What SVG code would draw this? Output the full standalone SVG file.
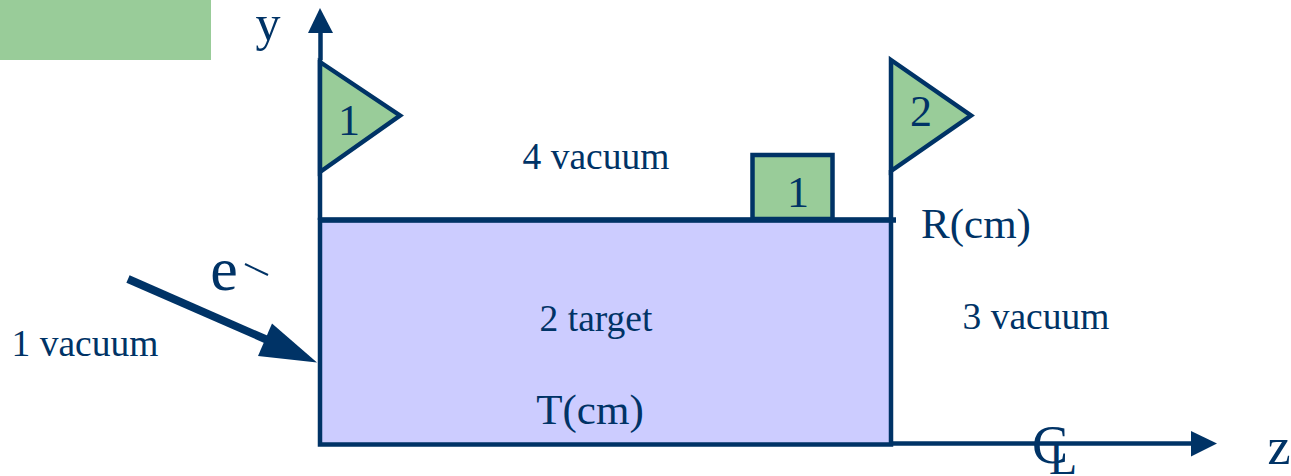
<svg xmlns="http://www.w3.org/2000/svg" width="1291" height="476" viewBox="0 0 1291 476">
<style>
text{font-family:"Liberation Serif","Times New Roman",serif;fill:#003366}
.s{stroke:#003366;stroke-width:4.500;stroke-linejoin:miter}
.g{fill:#99cc99}
.l{font-size:37.500px}
.v{font-size:43px}
.n{font-size:44px}
</style>
<rect id="legend" x="0" y="0" width="211" height="60" fill="#99cc99"/>
<g id="target">
<rect x="320" y="220" width="571" height="224.500" fill="#ccccff" class="s"/>
<text class="l" x="596" y="331" text-anchor="middle">2 target</text>
<text class="v" x="590" y="424" text-anchor="middle">T(cm)</text>
</g>
<g id="region4"><text class="l" x="596" y="169" text-anchor="middle">4 vacuum</text></g>
<g id="region3"><text class="l" x="1036" y="329" text-anchor="middle">3 vacuum</text></g>
<g id="region1"><text class="l" x="85" y="356" text-anchor="middle">1 vacuum</text></g>
<g id="connectors" fill="none">
<path d="M320.500 60V32" stroke="#003366" stroke-width="4.500"/>
<path d="M320 8L333 33H308Z" fill="#003366"/>
<path d="M320 220V60" stroke="#003366" stroke-width="4.500"/>
<path d="M891 220V170" stroke="#003366" stroke-width="4.500"/>
<path d="M320 220H896" stroke="#003366" stroke-width="5.500"/>
<path d="M891 443.500H1192" stroke="#003366" stroke-width="4.500"/>
<path d="M1217 443.500L1191 431V456.500Z" fill="#003366"/>
<path d="M128 279L272 342" stroke="#003366" stroke-width="8"/>
<path d="M317 362.500L258 356L272 323.500Z" fill="#003366"/>
</g>
<g id="flag1"><path d="M320 62L400 115.500L320 172Z" class="s g"/><text class="n" x="349" y="135" text-anchor="middle">1</text></g>
<g id="flag2"><path d="M891 60L971 115.500L891 171Z" class="s g"/><text class="n" x="921" y="126" text-anchor="middle">2</text></g>
<g id="block1"><rect x="752.500" y="155" width="80" height="64" class="s g"/><text class="n" x="798" y="207" text-anchor="middle">1</text></g>
<g id="labels">
<text x="268" y="40" font-size="50" text-anchor="middle">y</text>
<text class="v" x="976" y="238" text-anchor="middle">R(cm)</text>
<text x="224" y="290" font-size="62" text-anchor="middle">e</text>
<path d="M245 264L268 275" stroke="#003366" stroke-width="2" fill="none"/>
<text x="1279" y="464" font-size="52" text-anchor="middle">z</text>
<text x="1050" y="463" font-size="54" text-anchor="middle">C</text>
<text x="1063" y="474" font-size="46" text-anchor="middle">L</text>
</g>
</svg>
